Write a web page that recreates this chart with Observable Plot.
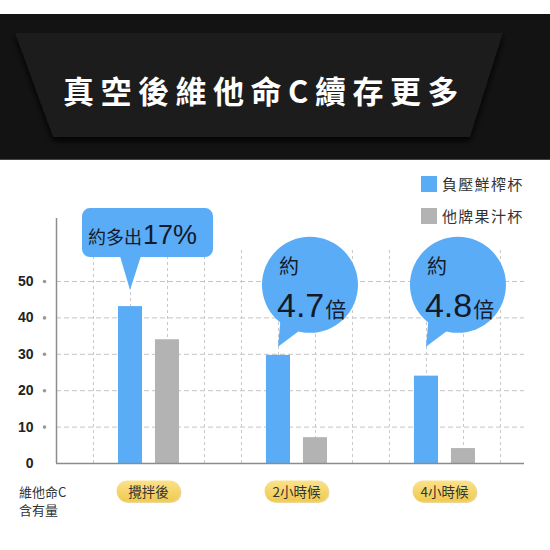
<!DOCTYPE html>
<html>
<head>
<meta charset="utf-8">
<script src="https://cdn.jsdelivr.net/npm/d3@7"></script>
<script src="https://cdn.jsdelivr.net/npm/@observablehq/plot@0.6"></script>
<style>
  body { margin: 0; background: #fff; font-family: "Noto Sans CJK TC", "Noto Sans", sans-serif; }
  #wrap { position: relative; width: 550px; height: 550px; overflow: hidden; background: #fff; }
  #header { position: absolute; left: 0; top: 14px; width: 550px; height: 146px; }
  #chart { position: absolute; left: 0; top: 160px; }
  #legend { position: absolute; left: 421px; top: 176px; }
  .lg { display: flex; align-items: center; height: 16px; margin-bottom: 15.5px; }
  .sw { width: 16px; height: 16px; margin-right: 5px; }
  .lt { font-size: 15px; letter-spacing: 1.3px; color: #333; line-height: 16px; }
  .yl { position: absolute; left: 19px; font-size: 13px; line-height: 15px; height: 15px; color: #333; white-space: nowrap; }
</style>
</head>
<body>
<div id="wrap">
  <div id="header"></div>
  <div id="chart"></div>
  <div id="legend"></div>
</div>
<script>
// ---- data ----
const title = "真空後維他命C續存更多";
const groups = ["攪拌後", "2小時候", "4小時候"];
const seriesNames = ["負壓鮮榨杯", "他牌果汁杯"];
const seriesColors = ["#5aacf6", "#b3b3b3"];
const ourCup = [43.1, 29.7, 24.0];
const otherCup = [34.0, 7.1, 4.1];
const yTicks = [0, 10, 20, 30, 40, 50];
const yLabelLines = ["維他命C", "含有量"];
const calloutPrefix = ["約多出", "約", "約"];
const calloutValue = ["17%", "4.7", "4.8"];
const calloutSuffix = ["", "倍", "倍"];
const calloutShape = ["box", "circle", "circle"];
const calloutTipY = [47.5, 31.9, 31.9];

// ---- header ----
const H = d3.select("#header").append("svg").attr("width", 550).attr("height", 146);
const defs = H.append("defs");
const f = defs.append("filter").attr("id", "blur").attr("x", "-10%").attr("y", "-100%").attr("width", "120%").attr("height", "300%");
f.append("feGaussianBlur").attr("stdDeviation", 1.4);
const fs = defs.append("filter").attr("id", "shadow").attr("x", "-10%").attr("y", "-20%").attr("width", "120%").attr("height", "150%");
fs.append("feDropShadow").attr("dx", 0).attr("dy", 4).attr("stdDeviation", 3).attr("flood-color", "#000").attr("flood-opacity", 0.9);
H.append("rect").attr("width", 550).attr("height", 146).attr("fill", "#131313");
H.append("rect").attr("y", 145).attr("width", 550).attr("height", 1).attr("fill", "#444");
H.append("polygon").attr("points", "15,19 503,19 470,123 53,123").attr("fill", "#1a1a1a").attr("filter", "url(#shadow)");
H.append("line").attr("x1", 18).attr("x2", 500).attr("y1", 21).attr("y2", 21)
  .attr("stroke", "#465068").attr("stroke-width", 5).attr("filter", "url(#blur)");
H.append("text").attr("x", 264).attr("y", 75).attr("text-anchor", "middle").attr("dominant-baseline", "central")
  .attr("fill", "#fff").attr("font-size", 31).attr("font-weight", 700).attr("letter-spacing", "6.5px")
  .attr("font-family", '"Noto Sans CJK TC", sans-serif').text(title);

// ---- legend & y label ----
const lg = d3.select("#legend");
seriesNames.forEach((n, i) => {
  const row = lg.append("div").attr("class", "lg");
  row.append("div").attr("class", "sw").style("background", seriesColors[i]);
  row.append("div").attr("class", "lt").text(n);
});
yLabelLines.forEach((t, i) => {
  d3.select("#wrap").append("div").attr("class", "yl").style("top", (484 + i * 18) + "px").text(t);
});

// ---- bar table ----
const bars = [];
groups.forEach((g, i) => {
  bars.push({group: g, series: seriesNames[0], pos: 4 * i + 2, value: ourCup[i], color: seriesColors[0]});
  bars.push({group: g, series: seriesNames[1], pos: 4 * i + 3, value: otherCup[i], color: seriesColors[1]});
});
const gridX = [1, 2, 3, 4, 5, 6, 7, 8, 9, 10, 11, 12];
const halfBar = 0.325;

// callouts: custom mark using scales
function callouts(index, scales) {
  const g = d3.create("svg:g").attr("text-anchor", "start");
  const blue = seriesColors[0];
  groups.forEach((grp, i) => {
    const tx = scales.x(4 * i + 2);
    const ty = scales.y(calloutTipY[i]);
    const c = g.append("g");
    if (calloutShape[i] === "box") {
      c.append("path").attr("d", `M${tx - 10},${ty - 34} L${tx},${ty} L${tx + 11},${ty - 34} Z`).attr("fill", blue);
      c.append("rect").attr("x", tx - 48).attr("y", ty - 82).attr("width", 131).attr("height", 49)
        .attr("rx", 8).attr("fill", blue);
      const t = c.append("text").attr("x", tx - 42).attr("y", ty - 46.5).attr("fill", "#141a2a").attr("text-anchor", "start")
        .attr("font-family", '"Liberation Sans", "Noto Sans CJK TC", sans-serif');
      t.append("tspan").attr("font-size", 18).attr("font-family", '"Noto Sans CJK TC", sans-serif').text(calloutPrefix[i]);
      t.append("tspan").attr("font-size", 27).attr("dx", 1).text(calloutValue[i]);
    } else {
      const cx = tx + 32, cy = ty - 62;
      c.append("path").attr("d", `M${tx},${ty} L${tx + 3},${ty - 32} L${tx + 24},${ty - 18} Z`).attr("fill", blue);
      c.append("circle").attr("cx", cx).attr("cy", cy).attr("r", 48).attr("fill", blue);
      c.append("text").attr("x", cx - 31).attr("y", cy - 11).attr("fill", "#141a2a").attr("text-anchor", "start")
        .attr("font-size", 20).attr("font-family", '"Noto Sans CJK TC", sans-serif').text(calloutPrefix[i]);
      const t = c.append("text").attr("x", cx - 33).attr("y", cy + 32).attr("fill", "#141a2a").attr("text-anchor", "start");
      t.append("tspan").attr("font-size", 34).attr("font-family", '"Liberation Sans", sans-serif').text(calloutValue[i]);
      t.append("tspan").attr("font-size", 21).attr("dx", 1).attr("font-family", '"Noto Sans CJK TC", sans-serif').text(calloutSuffix[i]);
    }
  });
  return g.node();
}

// category pills: custom mark
function pills(index, scales) {
  const g = d3.create("svg:g");
  const gr = g.append("defs").append("linearGradient").attr("id", "pillg").attr("x1", 0).attr("y1", 0).attr("x2", 0).attr("y2", 1);
  gr.append("stop").attr("offset", "0%").attr("stop-color", "#fbe28a");
  gr.append("stop").attr("offset", "100%").attr("stop-color", "#f0c94f");
  groups.forEach((grp, i) => {
    const cx = scales.x(4 * i + 2.5);
    const cy = scales.y(0) + 28;
    g.append("rect").attr("x", cx - 31).attr("y", cy - 9).attr("width", 64).attr("height", 21).attr("rx", 10.5)
      .attr("fill", "#d9b548").attr("opacity", 0.55);
    g.append("rect").attr("x", cx - 32).attr("y", cy - 10.5).attr("width", 64).attr("height", 21).attr("rx", 10.5)
      .attr("fill", "url(#pillg)");
    g.append("text").attr("x", cx).attr("y", cy).attr("text-anchor", "middle").attr("dominant-baseline", "central")
      .attr("font-size", 13.5).attr("fill", "#333").attr("font-family", '"Noto Sans CJK TC", sans-serif').text(grp);
  });
  return g.node();
}

const chart = Plot.plot({
  width: 550,
  height: 390,
  marginLeft: 56,
  marginRight: 26,
  marginTop: 58,
  marginBottom: 87,
  style: {background: "transparent", overflow: "visible"},
  x: {domain: [0, 12.65], axis: null},
  y: {domain: [0, 67.3], axis: null},
  marks: [
    Plot.ruleY(yTicks.filter(d => d > 0), {stroke: "#c4c4c4", strokeDasharray: "5,3", strokeWidth: 1}),
    Plot.ruleX(gridX, {y1: 0, y2: 58.5, stroke: "#c8c8c8", strokeDasharray: "3,3", strokeWidth: 1}),
    Plot.rectY(bars, {x1: d => d.pos - halfBar, x2: d => d.pos + halfBar, y: "value", fill: "color"}),
    Plot.ruleX([0], {stroke: "#8c8c8c", strokeWidth: 1.5}),
    Plot.ruleY([0], {stroke: "#8c8c8c", strokeWidth: 1.5}),
    Plot.dot(yTicks.filter(d => d > 0), {x: 0, y: d => d, dx: -12, r: 1.8, fill: "#999", stroke: null, clip: false}),
    Plot.text(yTicks, {x: 0, y: d => d, dx: -23, textAnchor: "end", fontWeight: "bold", fontSize: 14,
      fill: "#222", fontFamily: '"Liberation Sans", sans-serif', text: d => String(d)}),
    callouts,
    pills
  ]
});
document.getElementById("chart").appendChild(chart);
</script>
</body>
</html>
